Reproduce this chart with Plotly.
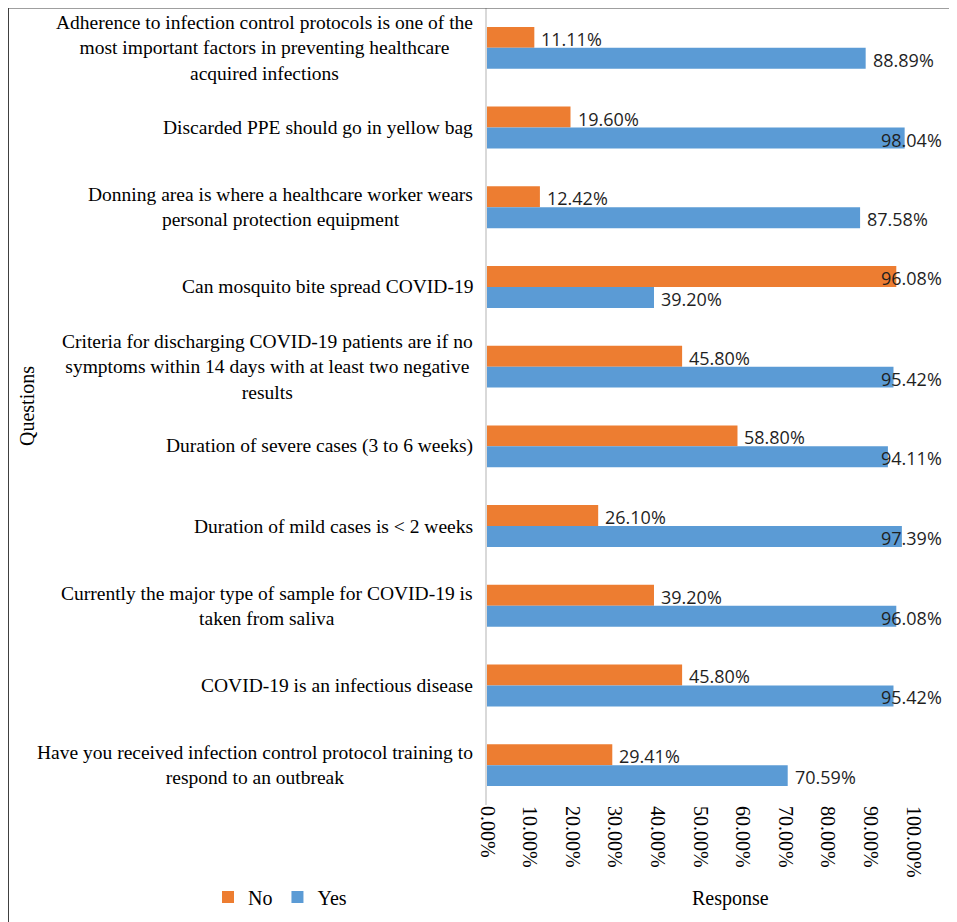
import plotly.graph_objects as go

categories = [
    "Adherence to infection control protocols is one of the<br>most important factors in preventing healthcare<br>acquired infections",
    "Discarded PPE should go in yellow bag",
    "Donning area is where a healthcare worker wears<br>personal protection equipment",
    "Can mosquito bite spread COVID-19",
    "Criteria for discharging COVID-19 patients are if no<br>symptoms within 14 days with at least two negative<br>results",
    "Duration of severe cases (3 to 6 weeks)",
    "Duration of mild cases is < 2 weeks",
    "Currently the major type of sample for COVID-19 is<br>taken from saliva",
    "COVID-19 is an infectious disease",
    "Have you received infection control protocol training to<br>respond to an outbreak",
]
no_values = [0.1111, 0.1960, 0.1242, 0.9608, 0.4580, 0.5880, 0.2610, 0.3920, 0.4580, 0.2941]
yes_values = [0.8889, 0.9804, 0.8758, 0.3920, 0.9542, 0.9411, 0.9739, 0.9608, 0.9542, 0.7059]
x_ticks = [0, 0.1, 0.2, 0.3, 0.4, 0.5, 0.6, 0.7, 0.8, 0.9, 1.0]

ORANGE = "#ED7D31"
BLUE = "#5B9BD5"
SERIF = "Liberation Serif"
SANS = "Open Sans"

# page offset (body margin) and geometry in page pixels
OFF = 8
W, H = 957 - OFF, 922 - OFF
PL, PR, PT, PB = 487, 913, 8, 805          # plot area in page pixels
L, T = PL - OFF, PT - OFF
R, B = W - (PR - OFF), H - (PB - OFF)
PW = PR - PL
PH = PB - PT

def px_x(p):
    return (p - PL) / PW

def px_y(p):
    return (PB - p) / PH

fig = go.Figure()
fig.add_trace(go.Bar(name="No", y=categories, x=no_values, orientation="h",
                     marker=dict(color=ORANGE, line=dict(width=0))))
fig.add_trace(go.Bar(name="Yes", y=categories, x=yes_values, orientation="h",
                     marker=dict(color=BLUE, line=dict(width=0))))

annotations = []
# data labels, kept inside the chart area on the right like the original
label_max = (942 - 62 - 6 - PL) / PW
for cat, v in zip(categories, no_values):
    annotations.append(dict(x=min(v, label_max), y=cat, xref="x", yref="y",
                            text=f"{v*100:.2f}%", showarrow=False, xanchor="left",
                            xshift=5, yshift=9,
                            font=dict(family=SANS, size=18, color="#1f1f1f")))
for cat, v in zip(categories, yes_values):
    annotations.append(dict(x=min(v, label_max), y=cat, xref="x", yref="y",
                            text=f"{v*100:.2f}%", showarrow=False, xanchor="left",
                            xshift=5, yshift=-12,
                            font=dict(family=SANS, size=18, color="#1f1f1f")))
# category labels (centered multi-line)
for cat in categories:
    annotations.append(dict(x=0, y=cat, xref="paper", yref="y", text=cat,
                            showarrow=False, xanchor="right", align="center",
                            xshift=-12, font=dict(family=SERIF, size=19.5, color="black")))
# axis titles
annotations.append(dict(x=px_x(27), y=px_y(406), xref="paper", yref="paper", text="Questions",
                        textangle=-90, showarrow=False, xanchor="center", yanchor="middle",
                        font=dict(family=SERIF, size=20, color="black")))
annotations.append(dict(x=px_x(730), y=px_y(898), xref="paper", yref="paper", text="Response",
                        showarrow=False, xanchor="center", yanchor="middle",
                        font=dict(family=SERIF, size=20, color="black")))

shapes = [
    dict(type="line", xref="paper", yref="paper", x0=px_x(8), x1=px_x(990),
         y0=px_y(7.5), y1=px_y(7.5), line=dict(color="#404040", width=2)),
    dict(type="line", xref="paper", yref="paper", x0=px_x(8), x1=px_x(8),
         y0=px_y(7.5), y1=px_y(960), line=dict(color="#404040", width=2)),
]

fig.update_layout(
    width=W, height=H,
    margin=dict(l=L, r=R, t=T, b=B, pad=0),
    paper_bgcolor="white", plot_bgcolor="white",
    barmode="group", bargap=0.474, bargroupgap=0,
    showlegend=True,
    legend=dict(orientation="h", x=px_x(208), y=px_y(897), xanchor="left", yanchor="middle",
                font=dict(family=SERIF, size=20, color="black"), itemwidth=30,
                traceorder="normal", bgcolor="rgba(0,0,0,0)"),
    annotations=annotations,
    shapes=shapes,
    xaxis=dict(range=[0, 1], tickvals=x_ticks, tickformat=".2%", tickangle=90,
               showgrid=False, zeroline=False, showline=False, ticks="",
               tickfont=dict(family=SERIF, size=20, color="black"), fixedrange=True),
    yaxis=dict(type="category", categoryorder="array", categoryarray=categories,
               range=[len(categories) - 0.5, -0.5], showticklabels=False, ticks="",
               showgrid=False, zeroline=False, showline=True, linecolor="#d9d9d9",
               linewidth=2),
)

fig.write_html("out.html")
